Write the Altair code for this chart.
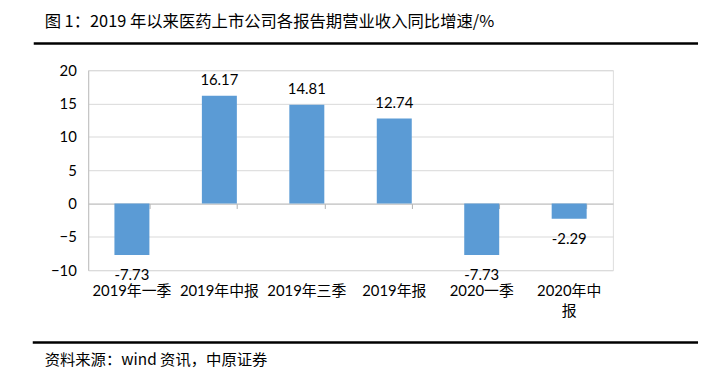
import altair as alt
import pandas as pd

categories = ["2019年一季", "2019年中报", "2019年三季", "2019年报", "2020一季", "2020年中报"]
growth = [-7.73, 16.17, 14.81, 12.74, -7.73, -2.29]
y_ticks = [-10, -5, 0, 5, 10, 15, 20]

title_text = "图 1：2019 年以来医药上市公司各报告期营业收入同比增速/%"
source_text = "资料来源：wind 资讯，中原证券"

df = pd.DataFrame({"cat": categories, "v": growth})
df["lbl"] = [f"{v:.2f}" for v in growth]

W, H = 530, 202
FONT = "Lato, 'Noto Sans CJK SC'"
CJK = "'Noto Sans CJK SC'"

x_scale = alt.Scale(paddingInner=0.6, paddingOuter=0.3)
x_noaxis = alt.X("cat:N", sort=categories, scale=x_scale, axis=None)
y_scale = alt.Scale(domain=[-10, 20], nice=False, zero=False)
y_axis = alt.Axis(title=None, values=y_ticks, ticks=False, domain=True,
                  domainColor="#bfbfbf", gridColor="#d9d9d9", labelPadding=12,
                  labelFontSize=15, labelColor="#000", labelFont=FONT)
y_enc = alt.Y("v:Q", scale=y_scale, axis=y_axis)

bars = alt.Chart(df).mark_bar(color="#5b9bd5").encode(
    x=alt.X("cat:N", sort=categories, scale=x_scale,
            axis=alt.Axis(title=None, labelAngle=0, domain=False, ticks=False,
                          labelPadding=14, labelFontSize=15, labelColor="#000",
                          labelFont=FONT, labelLineHeight=20,
                          labelExpr="datum.value == '2020年中报' ? ['2020年中', '报'] : datum.value")),
    y=y_enc,
)

zero_axis = alt.Chart(df).mark_bar(opacity=0).encode(
    x=alt.X("cat:N", sort=categories, scale=x_scale,
            axis=alt.Axis(title=None, labels=False, orient="bottom", offset=-H * 10 / 30,
                          tickBand="extent", ticks=True, tickSize=5, tickColor="#b0b0b0",
                          domain=True, domainColor="#bfbfbf", grid=False)),
)

pos_lbl = alt.Chart(df).transform_filter("datum.v >= 0").mark_text(
    baseline="alphabetic", dy=-11, fontSize=15, font=FONT, color="#000"
).encode(x=x_noaxis, y=y_enc, text="lbl:N")

neg_lbl = alt.Chart(df).transform_filter("datum.v < 0").mark_text(
    baseline="alphabetic", dy=25, fontSize=15, font=FONT, color="#000"
).encode(x=x_noaxis, y=y_enc, text="lbl:N")

one = pd.DataFrame({"a": [0]})
title = alt.Chart(one).mark_text(text=title_text, align="left", baseline="middle",
                                 fontSize=16.5, font=CJK, color="#000").encode(
    x=alt.value(-44), y=alt.value(-49))
top_rule = alt.Chart(one).mark_rule(color="#000", strokeWidth=2.5).encode(
    x=alt.value(-55), x2=alt.value(616), y=alt.value(-27))
bot_rule = alt.Chart(one).mark_rule(color="#000", strokeWidth=2.5).encode(
    x=alt.value(-56), x2=alt.value(616), y=alt.value(275))
source = alt.Chart(one).mark_text(text=source_text, align="left", baseline="middle",
                                  fontSize=15.5, font=CJK, color="#000").encode(
    x=alt.value(-44), y=alt.value(293))

chart = alt.layer(bars, zero_axis, pos_lbl, neg_lbl, title, top_rule, bot_rule, source).resolve_axis(
    x="independent"
).properties(
    width=W, height=H, autosize="none",
    padding={"left": 81, "top": 61, "right": 90, "bottom": 100},
).configure_view(stroke=None).configure(background="#ffffff")

chart.save("out.html", embed_options={"renderer": "svg", "actions": False})
